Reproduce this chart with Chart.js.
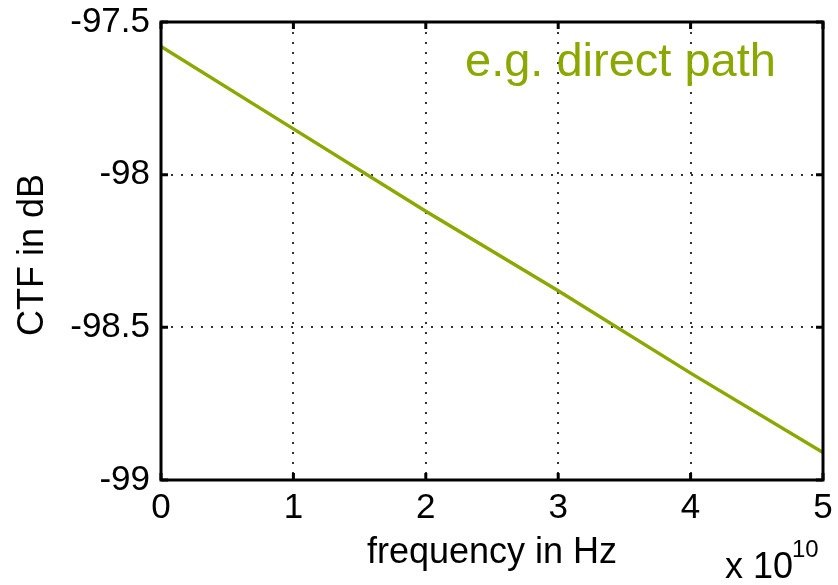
<!DOCTYPE html>
<html>
<head>
<meta charset="utf-8">
<script src="https://cdn.jsdelivr.net/npm/chart.js@4"></script>
<style>
  html, body { margin: 0; padding: 0; background: #fff; }
  #wrap { width: 838px; height: 585px; position: relative; }
</style>
</head>
<body>
<div id="wrap"><canvas id="ctfChart"></canvas></div>
<script>
// frequency in units of 1e10 Hz
const freq = [0, 1, 2, 3, 4, 5];
const ctfDb = [-97.58, -97.85, -98.12, -98.38, -98.65, -98.91];
const xTicks = [0, 1, 2, 3, 4, 5];
const yTicks = [-99, -98.5, -98, -97.5];
const yTickLabels = ["-99", "-98.5", "-98", "-97.5"];

const lineColor = "rgb(138,168,0)";
const fontFamily = "'Liberation Sans', Arial, sans-serif";

const boxPlugin = {
    id: "matlabBox",
    afterDraw(chart) {
        const { ctx, chartArea: a, scales } = chart;
        ctx.save();
        ctx.strokeStyle = "#000";
        ctx.lineWidth = 3;
        ctx.strokeRect(a.left, a.top, a.right - a.left, a.bottom - a.top);
        // inward ticks
        const len = 7;
        ctx.beginPath();
        for (const v of xTicks) {
            const px = scales.x.getPixelForValue(v);
            ctx.moveTo(px, a.bottom); ctx.lineTo(px, a.bottom - len);
            ctx.moveTo(px, a.top); ctx.lineTo(px, a.top + len);
        }
        for (const v of yTicks) {
            const py = scales.y.getPixelForValue(v);
            ctx.moveTo(a.left, py); ctx.lineTo(a.left + len, py);
            ctx.moveTo(a.right, py); ctx.lineTo(a.right - len, py);
        }
        ctx.stroke();

        // axis titles
        ctx.fillStyle = "#000";
        ctx.font = "36px " + fontFamily;
        ctx.textAlign = "center";
        ctx.textBaseline = "alphabetic";
        ctx.fillText("frequency in Hz", (a.left + a.right) / 2, 563);
        ctx.save();
        ctx.translate(43, (a.top + a.bottom) / 2 + 4);
        ctx.rotate(-Math.PI / 2);
        ctx.fillText("CTF in dB", 0, 0);
        ctx.restore();

        // exponent
        ctx.textAlign = "left";
        ctx.font = "36px " + fontFamily;
        ctx.fillText("x 10", 725, 578);
        ctx.font = "24px " + fontFamily;
        ctx.fillText("10", 792, 557);

        // annotation
        ctx.fillStyle = lineColor;
        ctx.font = "47px " + fontFamily;
        ctx.fillText("e.g. direct path", 465, 76);
        ctx.restore();
    },
};

const ctx = document.getElementById("ctfChart").getContext("2d");
new Chart(ctx, {
    type: "line",
    data: {
        datasets: [
            {
                data: freq.map((f, i) => ({ x: f, y: ctfDb[i] })),
                borderColor: lineColor,
                borderWidth: 3.5,
                pointRadius: 0,
                tension: 0,
                fill: false,
            },
        ],
    },
    options: {
        responsive: true,
        maintainAspectRatio: false,
        animation: false,
        layout: { padding: { top: 22, right: 15, left: 0, bottom: 0 } },
        plugins: {
            legend: { display: false },
            tooltip: { enabled: false },
        },
        scales: {
            x: {
                type: "linear",
                min: 0,
                max: 5,
                afterBuildTicks: (scale) => { scale.ticks = xTicks.map((v) => ({ value: v })); },
                afterFit: (scale) => {
                    scale.height = 105;
                    scale.paddingLeft = 0;
                    scale.paddingRight = 0;
                },
                ticks: {
                    color: "#000",
                    font: { family: fontFamily, size: 35 },
                    padding: 7,
                    maxRotation: 0,
                    callback: (v) => String(v),
                },
                grid: { color: "#333", lineWidth: 2, drawTicks: false },
                border: { display: false, dash: [2, 8] },
            },
            y: {
                type: "linear",
                min: -99,
                max: -97.5,
                afterBuildTicks: (scale) => { scale.ticks = yTicks.map((v) => ({ value: v })); },
                afterFit: (scale) => {
                    scale.width = 161;
                    scale.paddingTop = 0;
                    scale.paddingBottom = 0;
                },
                ticks: {
                    color: "#000",
                    font: { family: fontFamily, size: 35 },
                    padding: 11,
                    callback: (v) => yTickLabels[yTicks.indexOf(v)],
                },
                grid: { color: "#333", lineWidth: 2, drawTicks: false },
                border: { display: false, dash: [2, 8] },
            },
        },
    },
    plugins: [boxPlugin],
});
</script>
</body>
</html>
